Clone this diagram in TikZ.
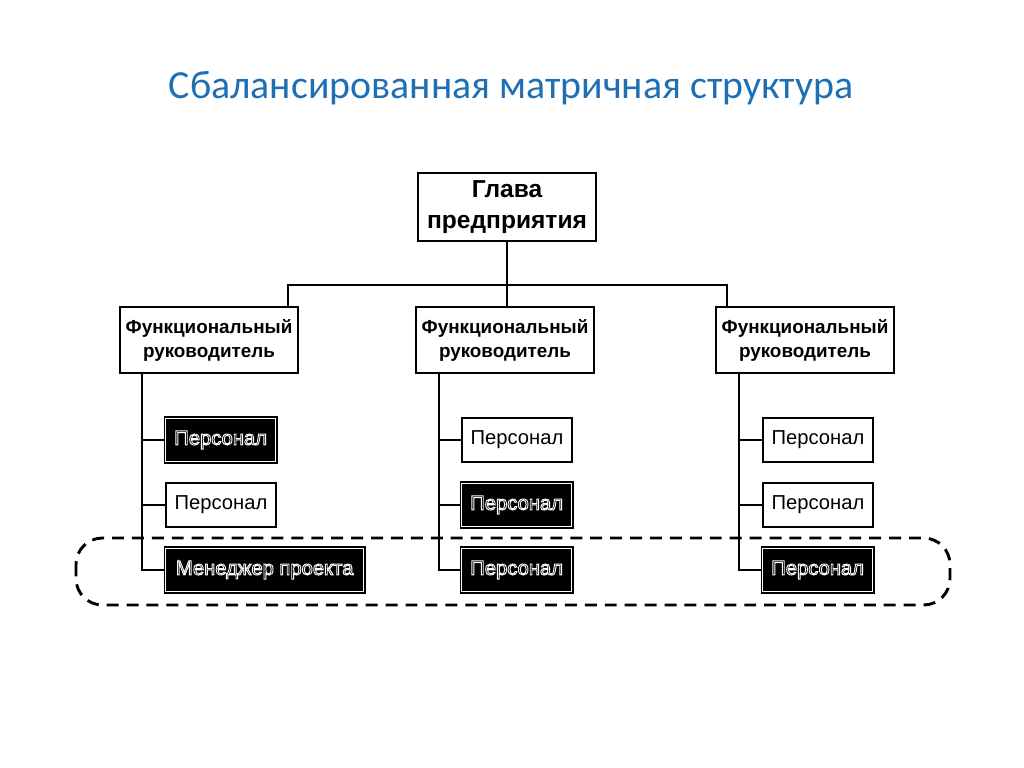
\documentclass[tikz,border=0pt]{standalone}
\usepackage{fontspec}
\setmainfont{Liberation Sans}
\newfontfamily\titlefont{Carlito}
\definecolor{titleblue}{RGB}{31,111,181}
\newcommand{\outl}[1]{\special{pdf:literal 2 Tr 1 1 1 RG 0.7 w}#1\special{pdf:literal 0 Tr}}
\tikzset{
  box/.style={draw, line width=1.5pt, fill=white, align=center, inner sep=2pt},
  head/.style={box, font=\fontsize{18.5}{23}\selectfont\bfseries, minimum width=4.71cm, minimum height=1.80cm},
  boss/.style={box, font=\fontsize{14.2}{18}\selectfont\bfseries, minimum width=4.71cm, minimum height=1.77cm},
  staff/.style={box, anchor=west, font=\fontsize{15.2}{17}\selectfont, minimum width=2.91cm, minimum height=1.16cm},
  darkstaff/.style={staff, fill=black, text=black, line width=1pt, double=white, double distance=0.8pt},
  link/.style={line width=1.5pt},
}
\begin{document}
\begin{tikzpicture}[x=0.02646cm, y=-0.02646cm]
            \useasboundingbox (0,0) rectangle (1024,767);
            % title
            \node (title) at (511,88) {\titlefont\fontsize{30}{33}\selectfont\color{titleblue}Сбалансированная матричная структура};
            % project group
            \draw[line width=2.2pt, dash pattern=on 9pt off 6pt, rounded corners=0.7cm] (76,538) rectangle (950,605);
            % head and managers
            \node[head] (gl) at (507,207) {Глава\\предприятия};
            \node[boss] (f1) at (209,340) {Функциональный\\руководитель};
            \node[boss] (f2) at (505,340) {Функциональный\\руководитель};
            \node[boss] (f3) at (805,340) {Функциональный\\руководитель};
            % staff, left
            \node[darkstaff] (p11) at (165,440) {\outl{Персонал}};
            \node[staff] (p12) at (165,505) {Персонал};
            \node[darkstaff, minimum width=5.24cm] (p13) at (165,570) {\outl{Менеджер проекта}};
            % staff, middle
            \node[staff] (p21) at (461,440) {Персонал};
            \node[darkstaff] (p22) at (461,505) {\outl{Персонал}};
            \node[darkstaff] (p23) at (461,570) {\outl{Персонал}};
            % staff, right
            \node[staff] (p31) at (762,440) {Персонал};
            \node[staff] (p32) at (762,505) {Персонал};
            \node[darkstaff] (p33) at (762,570) {\outl{Персонал}};
            % bus
            \coordinate (bus) at (507,285);
            \draw[link] (gl) -- (bus);
            \draw[link] ([xshift=-0.29cm]f1.north east) |- (bus) -| ([xshift=0.32cm]f3.north west);
            \draw[link] (bus) -- (f2.north -| bus);
            % trunks
            \draw[link] ([xshift=0.61cm]f1.south west) |- (p11);
            \draw[link] ([xshift=0.61cm]f1.south west) |- (p12);
            \draw[link] ([xshift=0.61cm]f1.south west) |- (p13);
            \draw[link] ([xshift=0.64cm]f2.south west) |- (p21);
            \draw[link] ([xshift=0.64cm]f2.south west) |- (p22);
            \draw[link] ([xshift=0.64cm]f2.south west) |- (p23);
            \draw[link] ([xshift=0.64cm]f3.south west) |- (p31);
            \draw[link] ([xshift=0.64cm]f3.south west) |- (p32);
            \draw[link] ([xshift=0.64cm]f3.south west) |- (p33);
\end{tikzpicture}
\end{document}
